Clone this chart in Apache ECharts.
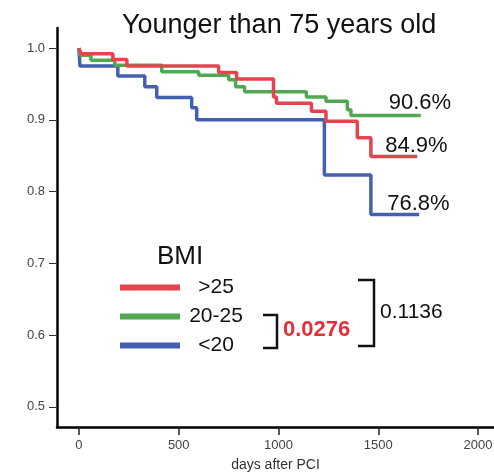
<!DOCTYPE html>
<html>
<head>
<meta charset="utf-8">
<script src="https://cdn.jsdelivr.net/npm/echarts@6/dist/echarts.min.js"></script>
<style>
html,body{margin:0;padding:0;background:#fff;}
#chart{width:494px;height:473px;}
</style>
</head>
<body>
<div id="chart"></div>
<script>
// Kaplan-Meier step data (days after PCI, survival)
const groupNames = ['>25', '20-25', '<20'];
const redDays   = [0, 10, 170, 240, 700, 790, 975, 990, 1165, 1238, 1395, 1463, 1695];
const redSurv   = [1.0, 0.992, 0.984, 0.975, 0.966, 0.957, 0.932, 0.923, 0.912, 0.898, 0.875, 0.849, 0.849];
const greenDays = [0, 5, 60, 180, 415, 600, 750, 785, 830, 1140, 1238, 1345, 1363, 1713];
const greenSurv = [1.0, 0.99, 0.983, 0.976, 0.967, 0.962, 0.956, 0.946, 0.939, 0.932, 0.926, 0.914, 0.906, 0.906];
const blueDays  = [0, 5, 195, 330, 390, 565, 590, 1230, 1463, 1705];
const blueSurv  = [1.0, 0.975, 0.961, 0.946, 0.931, 0.917, 0.90, 0.823, 0.768, 0.768];
const endLabels = ['84.9%', '90.6%', '76.8%'];
const xTicks = [0, 500, 1000, 1500, 2000];
const yTicks = [0.5, 0.6, 0.7, 0.8, 0.9, 1.0];
const pSmall = '0.0276';
const pLarge = '0.1136';

const colors = ['#e2454e', '#52a852', '#4460b0'];
const zip = (a, b) => a.map((d, i) => [d, b[i]]);
const font = 'Liberation Sans, Arial, sans-serif';

const chart = echarts.init(document.getElementById('chart'));
function mkSeries(i, days, surv, z, dy) {
  return {
    name: groupNames[i], type: 'line', step: 'end', symbol: 'none', z: z,
    data: zip(days, surv), color: colors[i],
    lineStyle: {width: 3.5, color: colors[i]},
    endLabel: {show: true, formatter: endLabels[i], fontSize: 22, fontFamily: font,
      color: '#111', offset: [-40, dy]},
    animation: false
  };
}
chart.setOption({
  animation: false,
  title: {text: 'Younger than 75 years old', left: 117, top: 7,
    textStyle: {fontSize: 27, fontWeight: 'normal', color: '#111', fontFamily: font}},
  grid: {left: 57, top: 28, width: 437, height: 399, containLabel: false, outerBoundsMode: 'none'},
  legend: {data: groupNames, orient: 'vertical', left: 120, top: 273, padding: 0,
    itemGap: 0, itemWidth: 60, itemHeight: 6, icon: 'rect',
    formatter: n => '{c|' + n + '}',
    textStyle: {fontSize: 21, fontFamily: font, color: '#111', lineHeight: 29,
      rich: {c: {width: 62, align: 'center', fontSize: 21, fontFamily: font, color: '#111', lineHeight: 29}}}},
  xAxis: {type: 'value', min: -110, max: 2080,
    name: 'days after PCI', nameLocation: 'middle', nameGap: 31,
    nameTextStyle: {fontSize: 14, fontFamily: font, color: '#333'},
    axisLine: {onZero: false, lineStyle: {color: '#000', width: 2.5}},
    axisTick: {show: true, customValues: xTicks, length: 8, lineStyle: {color: '#222', width: 1.5}},
    axisLabel: {customValues: xTicks, fontSize: 13, fontFamily: font, color: '#444', margin: 12,
      formatter: v => String(v)},
    splitLine: {show: false}},
  yAxis: {type: 'value', min: 0.472, max: 1.028,
    axisLine: {show: true, onZero: false, lineStyle: {color: '#000', width: 2.5}},
    axisTick: {show: true, customValues: yTicks, length: 8, lineStyle: {color: '#333', width: 1}},
    axisLabel: {customValues: yTicks, fontSize: 13, fontFamily: font, color: '#444', margin: 12,
      formatter: v => v.toFixed(1)},
    splitLine: {show: false}},
  series: [
    mkSeries(2, blueDays, blueSurv, 2, -11),
    mkSeries(1, greenDays, greenSurv, 3, -13),
    mkSeries(0, redDays, redSurv, 4, -11)
  ],
  graphic: [
    {type: 'text', left: 157, top: 244, style: {text: 'BMI', fontSize: 26, fontFamily: font, fill: '#111'}},
    {type: 'polyline', shape: {points: [[263, 315], [277, 315], [277, 348], [263, 348]]},
      style: {stroke: '#111', lineWidth: 2.5, fill: null}},
    {type: 'polyline', shape: {points: [[358, 280], [374, 280], [374, 346], [358, 346]]},
      style: {stroke: '#111', lineWidth: 2.5, fill: null}},
    {type: 'text', left: 283, top: 319, style: {text: pSmall, fontSize: 22, fontWeight: 'bold', fontFamily: font, fill: '#e5303b'}},
    {type: 'text', left: 380, top: 302, style: {text: pLarge, fontSize: 21, fontFamily: font, fill: '#111'}}
  ]
});
</script>
</body>
</html>
